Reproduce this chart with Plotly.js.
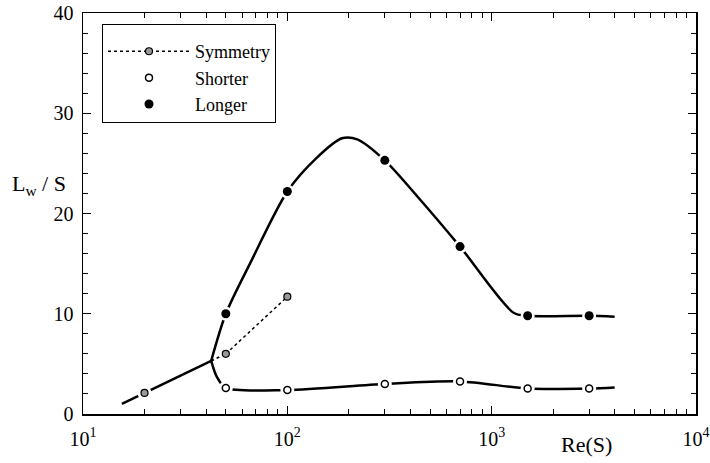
<!DOCTYPE html>
<html>
<head>
<meta charset="utf-8">
<script src="https://cdn.plot.ly/plotly-3.0.1.min.js"></script>
<style>html,body{margin:0;padding:0;background:#fff;}#chart{width:710px;height:463px;}</style>
</head>
<body>
<div id="chart"></div>
<script>
// Base (steady symmetric) branch before bifurcation
var base_re = [15.5, 20, 42.4];
var base_lw = [1.0, 2.1, 5.3];
// Symmetry branch (unstable, dotted) and its sample points
var symLine_re = [42.4, 50];
var symLine_lw = [5.3, 6.0];
var sym_re = [20, 50, 100];
var sym_lw = [2.1, 6.0, 11.7];
// Longer recirculation branch (curve knots) and sample points
var longCurve_re = [42.4, 50, 66, 100, 140, 185, 220, 300, 433, 700, 1280, 1500, 3000, 4000];
var longCurve_lw = [5.3, 10.0, 15.1, 22.2, 25.6, 27.5, 27.4, 25.3, 21.7, 16.7, 10.1, 9.8, 9.8, 9.7];
var long_re = [50, 100, 300, 700, 1500, 3000];
var long_lw = [10.0, 22.2, 25.3, 16.7, 9.8, 9.8];
// Shorter recirculation branch (curve knots) and sample points
var shortCurve_re = [42.4, 45.2, 50, 100, 300, 700, 1500, 3000, 4000];
var shortCurve_lw = [5.3, 3.7, 2.6, 2.4, 3.0, 3.25, 2.55, 2.55, 2.65];
var short_re = [50, 100, 300, 700, 1500, 3000];
var short_lw = [2.6, 2.4, 3.0, 3.25, 2.55, 2.55];
// Axis ticks
var xTickVals = [10, 100, 1000, 10000];
var xTickText = ['10<sup>1</sup>', '10<sup>2</sup>', '10<sup>3</sup>', '10<sup>4</sup>'];
var yTickVals = [0, 10, 20, 30, 40];

var FONT = "'Liberation Serif', 'Times New Roman', serif";
var halo_re = sym_re.concat(long_re, short_re);
var halo_lw = sym_lw.concat(long_lw, short_lw);

var traces = [
  {x: base_re, y: base_lw, mode: 'lines', line: {color: '#000', width: 2.5}, showlegend: false},
  {x: longCurve_re, y: longCurve_lw, mode: 'lines', line: {color: '#000', width: 2.5, shape: 'spline', smoothing: 0.8}, showlegend: false},
  {x: shortCurve_re, y: shortCurve_lw, mode: 'lines', line: {color: '#000', width: 2.5, shape: 'spline', smoothing: 0.8}, showlegend: false},
  {x: symLine_re, y: symLine_lw, mode: 'lines', line: {color: '#000', width: 1.8, dash: 'dot'}, showlegend: false},
  {x: halo_re, y: halo_lw, mode: 'markers', marker: {color: '#fff', size: 14, line: {width: 0}}, showlegend: false},
  {x: sym_re.slice(0, 1), y: sym_lw.slice(0, 1), mode: 'markers', marker: {color: '#999', size: 7, line: {color: '#000', width: 1.2}}, showlegend: false},
  {x: sym_re.slice(1), y: sym_lw.slice(1), name: 'Symmetry', mode: 'lines+markers', line: {color: '#000', width: 1.5, dash: 'dot'}, marker: {color: '#999', size: 7, line: {color: '#000', width: 1.2}}},
  {x: short_re, y: short_lw, name: 'Shorter', mode: 'markers', marker: {color: '#fff', size: 7, line: {color: '#000', width: 1.5}}},
  {x: long_re, y: long_lw, name: 'Longer', mode: 'markers', marker: {color: '#000', size: 9, line: {color: '#000', width: 0}}}
];

var layout = {
  width: 710, height: 463,
  margin: {l: 83, r: 14, t: 13, b: 49},
  paper_bgcolor: '#fff', plot_bgcolor: '#fff',
  font: {family: FONT, size: 19, color: '#000'},
  showlegend: true,
  legend: {
    x: 0.031, y: 0.972, xanchor: 'left', yanchor: 'top',
    bordercolor: '#000', borderwidth: 1, bgcolor: '#fff',
    font: {family: FONT, size: 18, color: '#000'},
    title: {text: ' ', font: {family: FONT, size: 6}},
    tracegroupgap: 0, itemwidth: 82
  },
  xaxis: {
    type: 'log', range: [1, 4],
    tickmode: 'array', tickvals: xTickVals, ticktext: xTickText,
    ticks: 'inside', ticklen: 8, tickwidth: 1.2, tickcolor: '#000',
    minor: {dtick: 'D1', ticks: 'inside', ticklen: 5, tickwidth: 1, tickcolor: '#000', showgrid: false},
    showline: true, linecolor: '#000', linewidth: 1.5, mirror: 'allticks',
    showgrid: false, zeroline: false, ticklabelstandoff: 6,
    tickfont: {family: FONT, size: 20, color: '#000'}
  },
  yaxis: {
    range: [0, 40],
    tickmode: 'array', tickvals: yTickVals,
    ticks: 'inside', ticklen: 8, tickwidth: 1.2, tickcolor: '#000',
    minor: {dtick: 2, ticks: 'inside', ticklen: 5, tickwidth: 1, tickcolor: '#000', showgrid: false},
    showline: true, linecolor: '#000', linewidth: 1.5, mirror: 'allticks',
    showgrid: false, zeroline: false, ticklabelstandoff: 4,
    tickfont: {family: FONT, size: 20, color: '#000'}
  },
  annotations: [
    {text: 'Re(S)', xref: 'paper', yref: 'paper', x: 0.822, y: -0.077, xanchor: 'center', yanchor: 'middle', showarrow: false, font: {family: FONT, size: 22, color: '#000'}},
    {text: 'L<sub>w</sub> / S', xref: 'paper', yref: 'paper', x: -0.072, y: 0.571, xanchor: 'center', yanchor: 'middle', showarrow: false, font: {family: FONT, size: 22, color: '#000'}}
  ]
};

Plotly.newPlot('chart', traces, layout, {displayModeBar: false, staticPlot: true});
</script>
</body>
</html>
